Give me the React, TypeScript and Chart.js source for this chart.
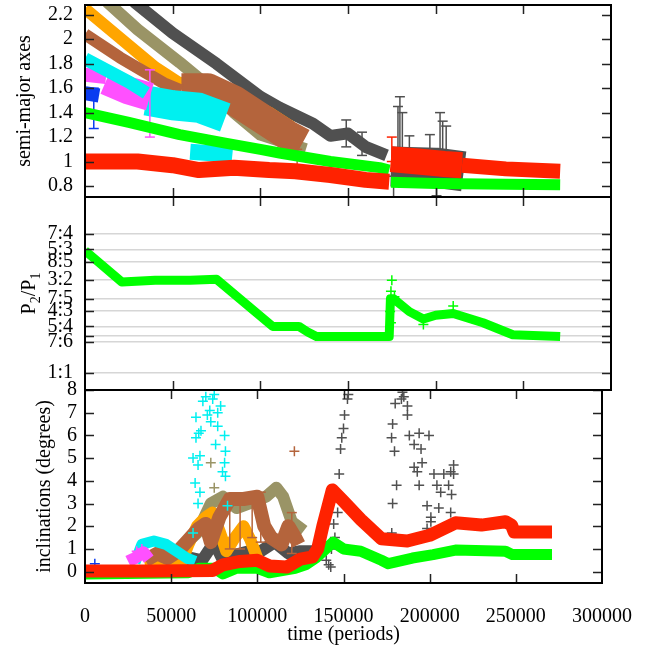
import { useEffect, useRef } from 'react';
import { Chart, registerables } from 'chart.js';

Chart.register(...registerables);

type P = [number, number];
type S = [number, number, number];

const SERIF = "'Liberation Serif', 'Times New Roman', Times, serif";

// ---------- shared x axis ----------
const xMin = 0;
const xMax = 300000;
const xStep = 50000;
const xInnerTicks = [50000, 100000, 150000, 200000, 250000];

// ---------- panel 1: semi-major axes ----------
const semiTicks = [0.8, 1.0, 1.2, 1.4, 1.6, 1.8, 2.0, 2.2];
const semiMin = 0.71;
const semiMax = 2.28;

const semiRed1: P[] = [[0, 1.0], [30000, 1.0], [50000, 0.97], [65000, 0.93], [85000, 0.95], [105000, 0.93], [120000, 0.92], [140000, 0.89], [160000, 0.85], [173500, 0.835]];
const semiRed2: P[] = [[174500, 1.02], [190000, 1.0], [205000, 0.98], [215000, 0.97]];
const semiRed3: P[] = [[215000, 0.97], [240000, 0.94], [271000, 0.92]];
const semiGreen1: P[] = [[0, 1.40], [25000, 1.32], [54000, 1.22], [80000, 1.15], [100000, 1.10], [111000, 1.07], [140000, 1.00], [168000, 0.95], [173500, 0.93]];
const semiGreen2: P[] = [[174500, 0.83], [200000, 0.82], [240000, 0.815], [271000, 0.81]];
const semiBlue: P[] = [[0, 1.56], [8000, 1.54]];
const semiMagenta: P[] = [[0, 1.71], [12000, 1.69]];
const semiMagentaBlob: P[] = [[12000, 1.66], [25000, 1.58], [37000, 1.53]];
const semiCyan: P[] = [[0, 1.84], [25000, 1.65], [35000, 1.56]];
const semiCyanBlob: P[] = [[35000, 1.50], [50000, 1.46], [65000, 1.44], [80000, 1.36]];
const semiCyanLow: P[] = [[60000, 1.08], [70000, 1.07], [84000, 1.05]];
const semiBrown: P[] = [[0, 2.04], [20000, 1.85], [45000, 1.64], [55000, 1.58]];
const semiBrownBlob: P[] = [[55000, 1.60], [70000, 1.60], [85000, 1.50], [101000, 1.35], [115000, 1.22], [124000, 1.15]];
const semiOrange: P[] = [[0, 2.25], [20000, 2.01], [40000, 1.77], [54000, 1.64], [65000, 1.66], [75000, 1.64], [90000, 1.52], [105000, 1.40], [118000, 1.28]];
const semiOlive: P[] = [[8000, 2.40], [13000, 2.30], [30000, 2.08], [54000, 1.81], [70000, 1.62], [85000, 1.40], [100000, 1.22], [126000, 1.10]];
const semiGray: P[] = [[20000, 2.42], [28500, 2.30], [50000, 2.05], [75000, 1.80], [100000, 1.53], [111000, 1.44], [130000, 1.31], [140000, 1.21], [150000, 1.23], [160000, 1.12], [172000, 1.05]];
const semiGray2: P[] = [[174500, 0.96], [200000, 0.95], [216000, 0.92]];

const semiGraySpikes: S[] = [[149000, 1.12, 1.34], [158000, 1.05, 1.24], [178500, 1.0, 1.45], [179600, 1.0, 1.53], [181000, 1.0, 1.40], [185000, 1.0, 1.21], [196700, 0.98, 1.22], [202500, 0.98, 1.40], [204000, 0.98, 1.33], [206000, 0.98, 1.29], [176000, 0.70, 0.88], [200500, 0.72, 0.88]];
const semiRedSpikes: S[] = [[175000, 1.0, 1.20]];
const semiMagentaSpikes: S[] = [[37000, 1.20, 1.75]];
const semiBlueSpikes: S[] = [[5000, 1.27, 1.60]];
const semiBrownSpikes: S[] = [[121000, 0.96, 1.10]];

// ---------- panel 2: period ratio ----------
const ratioValues = [1, 7 / 6, 6 / 5, 5 / 4, 4 / 3, 7 / 5, 3 / 2, 8 / 5, 5 / 3, 7 / 4];
const ratioLabels = ['1:1', '7:6', '', '5:4', '4:3', '7:5', '3:2', '8:5', '5:3', '7:4'];
const ratioMin = 0.906;
const ratioMax = 1.95;

const ratioGreen: P[] = [[0, 1.66], [21000, 1.49], [40000, 1.50], [60000, 1.50], [75000, 1.505], [107000, 1.25], [122000, 1.25], [127000, 1.22], [132000, 1.195], [173500, 1.195], [174200, 1.40], [176000, 1.40], [185000, 1.33], [193000, 1.29], [200000, 1.31], [210000, 1.32], [227000, 1.27], [244000, 1.205], [271000, 1.195]];
const ratioGreenCross: P[] = [[175000, 1.50], [174500, 1.44], [176500, 1.41], [174000, 1.33], [174500, 1.27], [210000, 1.36], [193000, 1.26]];

// ---------- panel 3: inclinations ----------
const incTicks = [0, 1, 2, 3, 4, 5, 6, 7, 8];
const incMin = -0.5;
const incMax = 8;

const incRed: P[] = [[0, 0.03], [40000, 0.03], [74000, 0.05], [80000, 0.3], [90000, 0.45], [100000, 0.5], [107000, 0.25], [117000, 0.2], [125000, 0.55], [132000, 0.65], [135000, 1.0], [138000, 2.0], [143500, 3.6], [150000, 3.1], [160000, 2.3], [172000, 1.45], [187000, 1.35], [200000, 1.6], [215000, 2.15], [230000, 2.05], [244000, 2.2], [247500, 2.05], [249000, 1.75], [271000, 1.75]];
const incGreen: P[] = [[0, -0.1], [60000, -0.05], [66000, 0.15], [75000, 0.15], [80000, -0.1], [88000, 0.15], [100000, 0.15], [107000, -0.05], [122000, 0.15], [128000, 0.3], [134000, 0.6], [144000, 1.3], [150000, 1.0], [160000, 0.9], [172000, 0.5], [176000, 0.35], [190000, 0.6], [202000, 0.75], [215000, 0.95], [244000, 0.9], [248000, 0.75], [271000, 0.75]];
const incBlue: P[] = [[0, 0.0], [8000, 0.0]];
const incBlueCross: P[] = [[5700, 0.35]];
const incMagenta: P[] = [[25000, 0.45], [29000, 0.6], [34000, 0.85], [37000, 0.55]];
const incMagentaCross: P[] = [[33000, 1.0], [30000, 0.9]];
const incCyan: P[] = [[29000, 0.4], [33000, 1.2], [40000, 1.35], [47000, 1.2], [53000, 0.9], [59000, 0.6], [64000, 0.45]];
const incCyanCross: P[] = [[70100, 7.7], [68400, 7.5], [74100, 7.6], [72400, 7.1], [78700, 7.3], [77000, 7.0], [64400, 6.8], [73000, 6.6], [77000, 6.4], [67300, 6.2], [64400, 5.9], [81000, 6.0], [75800, 5.6], [81500, 5.3], [62700, 5.0], [66700, 5.1], [65600, 4.7], [81000, 4.8], [79800, 4.4], [81500, 4.2], [63900, 3.9], [66700, 3.5], [65600, 3.0], [62700, 1.7], [82700, 2.9], [71000, 6.9], [75000, 7.8], [66000, 6.1]];
const incOrange: P[] = [[35000, 0.2], [45000, 0.35], [55000, 0.2], [60000, 1.2], [65000, 2.0], [70000, 2.4], [74000, 2.6], [78000, 1.8], [82000, 0.9], [87000, 1.5], [92000, 2.0], [96000, 1.4], [100000, 0.6]];
const incBrown: P[] = [[35000, 0.5], [42000, 0.8], [48000, 0.6], [54000, 0.9], [60000, 1.4], [66000, 1.9], [70000, 2.1], [73000, 1.3], [78000, 2.4], [84000, 3.2], [92000, 3.2], [100000, 3.3], [104000, 2.0], [108000, 1.5], [114000, 1.2], [118000, 2.0], [122000, 1.5], [124000, 1.2]];
const incBrownSpikes: S[] = [[84000, 1.0, 3.4], [90000, 1.0, 3.3], [97000, 1.5, 3.4], [102000, 1.3, 3.5], [120000, 0.8, 2.6]];
const incBrownCross: P[] = [[121500, 5.3]];
const incOlive: P[] = [[55000, 1.0], [65000, 1.7], [73000, 3.0], [80000, 3.3], [88000, 2.8], [95000, 3.0], [105000, 3.3], [111000, 3.7], [115000, 3.3], [120000, 2.2], [127000, 1.8]];
const incOliveCross: P[] = [[73000, 4.8], [75000, 3.7]];
const incGray: P[] = [[55000, 0.2], [62000, 0.6], [68000, 0.5], [75000, 1.3], [80000, 0.5], [85000, 0.7], [95000, 0.9], [100000, 0.8], [110000, 1.3], [118000, 0.8], [125000, 0.9], [135000, 0.9]];
const incGrayCross: P[] = [[138000, 0.9], [141400, 0.3], [142600, 0.2], [144300, 2.1], [146600, 2.6], [147500, 4.3], [148300, 5.4], [150000, 6.3], [150600, 6.9], [152300, 7.6], [152800, 7.8], [178000, 1.7], [177900, 5.9], [178500, 6.5], [178500, 3.0], [179600, 5.3], [180800, 3.8], [183600, 7.6], [184200, 7.9], [187100, 7.3], [187100, 6.9], [188200, 6.0], [191000, 5.6], [192800, 4.4], [193900, 6.1], [193900, 3.8], [195000, 5.4], [195600, 4.8], [191000, 4.6], [198500, 2.9], [198500, 1.9], [199600, 6.0], [199600, 1.6], [200700, 2.4], [200700, 2.2], [202500, 4.3], [204200, 3.8], [205300, 2.8], [206400, 3.5], [208200, 4.3], [211000, 3.8], [212200, 4.4], [212200, 2.6], [212200, 2.1], [212700, 3.4], [213900, 4.7], [213900, 4.3], [180000, 7.4], [185000, 7.7], [140000, 0.5], [145000, 1.5], [149000, 5.9], [143000, 1.0]];

// ---------- colours ----------
const RED = '#ff2200';
const GREEN = '#00ff00';
const BLUE = '#0a3cf0';
const MAGENTA = '#ff50ff';
const CYAN = '#00f0f0';
const ORANGE = '#ffa500';
const BROWN = '#b4643c';
const OLIVE = '#9a9466';
const GRAY = '#505050';

const toXY = (d: P[]) => d.map(([x, y]) => ({ x, y }));

const band = (d: P[], color: string, w: number) => ({
  data: toXY(d),
  showLine: true,
  borderColor: color,
  backgroundColor: color,
  borderWidth: w,
  pointRadius: 0,
  tension: 0,
  fill: false,
  clip: 0,
  borderCapStyle: 'butt',
  borderJoinStyle: 'round',
});

const cross = (d: P[], color: string) => ({
  data: toXY(d),
  showLine: false,
  borderColor: color,
  backgroundColor: color,
  pointStyle: 'cross',
  pointRadius: 5,
  pointBorderWidth: 1.5,
});

const spikes = (d: S[], color: string) => ({
  data: d.flatMap(([x, lo, hi]) => [{ x, y: lo }, { x, y: hi }, { x, y: null }]),
  showLine: true,
  spanGaps: false,
  borderColor: color,
  backgroundColor: color,
  borderWidth: 1.5,
  pointStyle: 'line',
  pointRadius: 5,
  pointBorderWidth: 1.5,
  clip: 0,
});

const framePlugin = {
  id: 'frameTicks',
  afterDraw(chart: any) {
    const { ctx, chartArea, scales } = chart;
    const { left, right, top, bottom } = chartArea;
    ctx.save();
    ctx.strokeStyle = '#222';
    ctx.lineWidth = 1.5;
    ctx.beginPath();
    for (const v of xInnerTicks) {
      const px = Math.round(scales.x.getPixelForValue(v)) + 0.5;
      ctx.moveTo(px, top);
      ctx.lineTo(px, top + 9);
      ctx.moveTo(px, bottom);
      ctx.lineTo(px, bottom - 9);
    }
    for (const t of scales.y.ticks) {
      const py = Math.round(scales.y.getPixelForValue(t.value)) + 0.5;
      ctx.moveTo(left, py);
      ctx.lineTo(left + 9, py);
      ctx.moveTo(right, py);
      ctx.lineTo(right - 9, py);
    }
    ctx.stroke();
    ctx.strokeStyle = '#000';
    ctx.lineWidth = 2;
    ctx.strokeRect(left, top, right - left, bottom - top);
    ctx.restore();
  },
};

const ratioTitlePlugin = {
  id: 'ratioTitle',
  afterDraw(chart: any) {
    const { ctx, chartArea } = chart;
    const cy = (chartArea.top + chartArea.bottom) / 2;
    const big = `20px ${SERIF}`;
    const small = `14px ${SERIF}`;
    const parts: [string, string, number][] = [['P', big, 0], ['2', small, 5], ['/P', big, 0], ['1', small, 5]];
    ctx.save();
    ctx.translate(35, cy);
    ctx.rotate(-Math.PI / 2);
    ctx.fillStyle = '#000';
    ctx.textBaseline = 'alphabetic';
    let total = 0;
    const widths = parts.map(([t, f]) => {
      ctx.font = f;
      const w = ctx.measureText(t).width;
      total += w;
      return w;
    });
    let x = -total / 2;
    parts.forEach(([t, f, dy], i) => {
      ctx.font = f;
      ctx.fillText(t, x, dy);
      x += widths[i];
    });
    ctx.restore();
  },
};

const font = { family: SERIF, size: 20 };

function yScale(min: number, max: number, vals: number[], labels: (v: number, i: number) => string, opts: any) {
  return {
    type: 'linear',
    position: 'left',
    min,
    max,
    afterFit: (s: any) => { s.width = 85; },
    afterBuildTicks: (s: any) => { s.ticks = vals.map((v) => ({ value: v })); },
    ticks: {
      autoSkip: false,
      font,
      color: '#000',
      padding: opts.padding,
      callback: (v: number, i: number) => labels(v, i),
    },
    grid: {
      display: !!opts.grid,
      drawTicks: false,
      color: '#d6d6d6',
      lineWidth: 1.5,
    },
    border: { display: false },
    title: opts.title
      ? { display: true, text: opts.title, font, color: '#000', padding: { top: opts.titlePad, bottom: 0 } }
      : { display: false },
  };
}

function hiddenX() {
  return { type: 'linear', display: false, min: xMin, max: xMax };
}

// canvases are shifted up by OFF px so that the top label padding never squeezes panel 1
const OFF = 40;
const CH = 647 + OFF;

function makeConfig(datasets: any[], padTop: number, padBottom: number, x: any, y: any, plugins: any[]) {
  return {
    type: 'scatter',
    data: { datasets },
    options: {
      responsive: false,
      animation: false,
      events: [],
      layout: { padding: { top: padTop + OFF, bottom: padBottom, left: 0, right: 43 } },
      plugins: { legend: { display: false }, tooltip: { enabled: false } },
      scales: { x, y },
    },
    plugins,
  };
}

const fmt1 = (v: number) => String(Math.round(v * 10) / 10);

export default function App() {
  const r1 = useRef<HTMLCanvasElement>(null);
  const r2 = useRef<HTMLCanvasElement>(null);
  const r3 = useRef<HTMLCanvasElement>(null);

  useEffect(() => {
    const ds1 = [
      band(semiRed1, RED, 16),
      band(semiRed2, RED, 26),
      band(semiRed3, RED, 15),
      spikes(semiRedSpikes, RED),
      band(semiGreen1, GREEN, 11),
      band(semiGreen2, GREEN, 11),
      band(semiBlue, BLUE, 14),
      spikes(semiBlueSpikes, BLUE),
      band(semiCyan, CYAN, 13),
      band(semiMagenta, MAGENTA, 14),
      band(semiMagentaBlob, MAGENTA, 28),
      spikes(semiMagentaSpikes, MAGENTA),
      band(semiCyanBlob, CYAN, 30),
      band(semiCyanLow, CYAN, 16),
      band(semiBrown, BROWN, 12),
      band(semiBrownBlob, BROWN, 30),
      spikes(semiBrownSpikes, BROWN),
      band(semiOrange, ORANGE, 12),
      band(semiOlive, OLIVE, 12),
      band(semiGray, GRAY, 12),
      band(semiGray2, GRAY, 40),
      spikes(semiGraySpikes, GRAY),
    ];
    const ds2 = [
      band(ratioGreen, GREEN, 9),
      cross(ratioGreenCross, GREEN),
    ];
    const ds3 = [
      band(incRed, RED, 13),
      band(incGreen, GREEN, 11),
      cross(incBlueCross, BLUE),
      band(incBlue, BLUE, 10),
      band(incMagenta, MAGENTA, 12),
      cross(incMagentaCross, MAGENTA),
      cross(incCyanCross, CYAN),
      band(incCyan, CYAN, 11),
      cross(incGrayCross, GRAY),
      band(incBrown, BROWN, 14),
      spikes(incBrownSpikes, BROWN),
      cross(incBrownCross, BROWN),
      band(incOrange, ORANGE, 12),
      band(incOlive, OLIVE, 12),
      cross(incOliveCross, OLIVE),
      band(incGray, GRAY, 12),
    ];

    const c1 = new Chart(r1.current as any, makeConfig(
      ds1, 5, 450, hiddenX(),
      yScale(semiMin, semiMax, semiTicks, (v) => fmt1(v), { padding: 12, title: 'semi-major axes', titlePad: 13 }),
      [framePlugin],
    ) as any);
    const c2 = new Chart(r2.current as any, makeConfig(
      ds2, 197, 257, hiddenX(),
      yScale(ratioMin, ratioMax, ratioValues, (_v, i) => ratioLabels[i], { padding: 12, grid: true }),
      [framePlugin, ratioTitlePlugin],
    ) as any);
    const x3 = {
      type: 'linear',
      position: 'bottom',
      min: xMin,
      max: xMax,
      afterFit: (s: any) => { s.height = 64; },
      ticks: {
        stepSize: xStep,
        autoSkip: false,
        maxRotation: 0,
        font,
        color: '#000',
        padding: 22,
        callback: (v: number) => String(v),
      },
      grid: { display: false, drawTicks: false },
      border: { display: false },
      title: { display: true, text: 'time (periods)', font, color: '#000', padding: { top: 0, bottom: 0 } },
    };
    const c3 = new Chart(r3.current as any, makeConfig(
      ds3, 390, 0, x3,
      yScale(incMin, incMax, incTicks, (v) => String(v), { padding: 8, title: 'inclinations (degrees)', titlePad: 33 }),
      [framePlugin],
    ) as any);
    return () => {
      c1.destroy();
      c2.destroy();
      c3.destroy();
    };
  }, []);

  const cs: any = { position: 'absolute', left: 0, top: -OFF, width: 654, height: CH };
  return (
    <div style={{ position: 'absolute', left: 0, top: 0, width: 654, height: 647, background: '#fff', overflow: 'hidden' }}>
      <canvas ref={r1} width={654} height={CH} style={cs} />
      <canvas ref={r2} width={654} height={CH} style={cs} />
      <canvas ref={r3} width={654} height={CH} style={cs} />
    </div>
  );
}
